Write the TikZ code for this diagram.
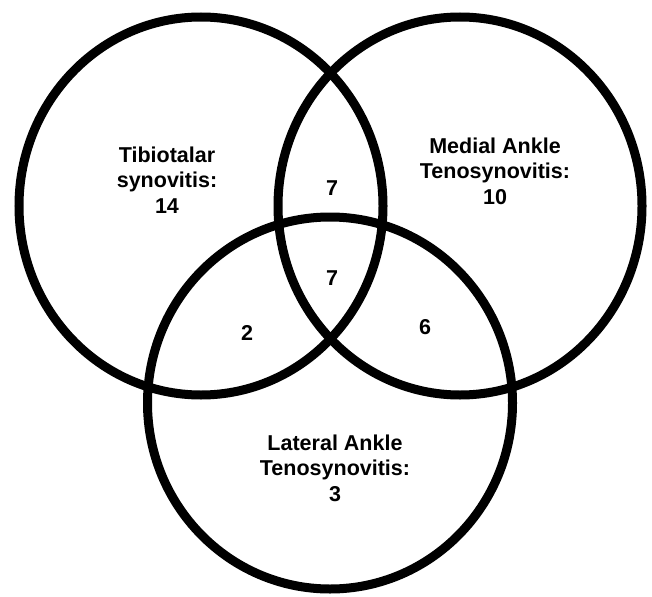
\documentclass[tikz,border=0pt]{standalone}
\usepackage{fontspec}
\setmainfont{Liberation Sans}
\begin{document}
\begin{tikzpicture}[x=1pt,y=-1pt,
  ring/.style={draw=black,line width=9pt},
  setlabel/.style={align=center,font=\bfseries\fontsize{21.5}{25.5}\selectfont,inner sep=0pt},
  count/.style={font=\bfseries\fontsize{21.5}{25.5}\selectfont,inner sep=0pt}]
\useasboundingbox (0,0) rectangle (652,596);
\draw[ring] (201,206) ellipse [x radius=182, y radius=189];
\draw[ring] (460,206) ellipse [x radius=182, y radius=189];
\draw[ring] (330,403) ellipse [x radius=182.5, y radius=186];
\node[setlabel] (tib) at (167,180) {Tibiotalar\\synovitis:\\14};
\node[setlabel] (med) at (495,171) {Medial Ankle\\Tenosynovitis:\\10};
\node[setlabel] (lat) at (335,468) {Lateral Ankle\\Tenosynovitis:\\3};
\node[count] (tm) at (332,188) {7};
\node[count] (all) at (332,278) {7};
\node[count] (tl) at (247,333) {2};
\node[count] (ml) at (425,327) {6};
\end{tikzpicture}
\end{document}
